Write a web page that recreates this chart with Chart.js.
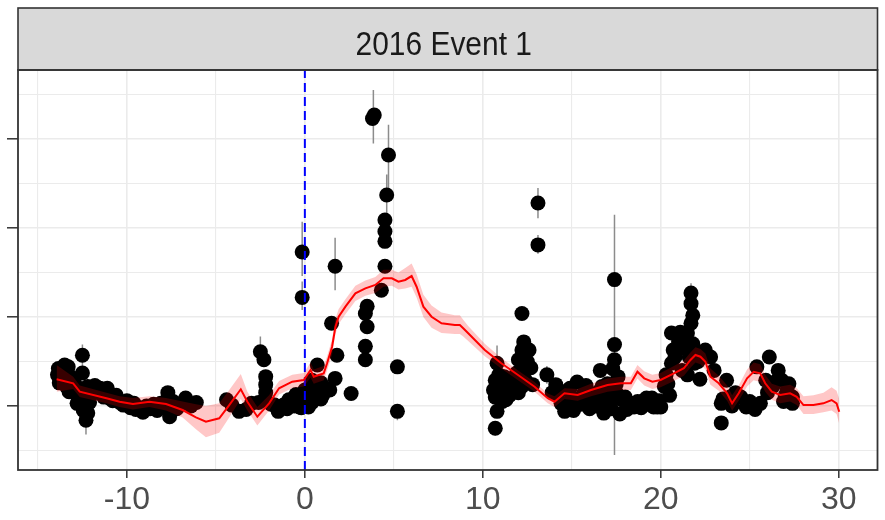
<!DOCTYPE html>
<html>
<head>
<meta charset="utf-8">
<script src="https://cdn.jsdelivr.net/npm/chart.js@4.4.1/dist/chart.umd.min.js"></script>
<style>
  html, body { margin: 0; padding: 0; background: #fff; }
  canvas { display: block; }
</style>
</head>
<body>
<canvas id="chart" width="885" height="520"></canvas>
<script>
// ── Data ──
const stripLabel = '2016 Event 1';
const eventDay = 0;
const xMin = -16.12, xMax = 32.18;
const yMin = -7.19, yMax = 37.75;
const xTicks = [-15, -10, -5, 0, 5, 10, 15, 20, 25, 30];
const yTicks = [-5, 0, 5, 10, 15, 20, 25, 30, 35];

// observations
const obsDay = [
  -13.9, -13.8, -13.7, -13.6, -13.5, -13.4, -13.3, -13.2, -13.1, -13.0, -12.9, -12.8, -12.7, -12.5, -12.5, -12.4, -12.3, -12.2, -12.1, -12.0,
  -11.8, -11.6, -11.5, -11.3, -11.1, -11.0, -10.8, -10.6, -10.4, -10.2, -10.0, -9.8, -9.6, -9.5, -9.3, -9.1, -8.9, -8.7, -8.5, -8.3,
  -8.1, -7.9, -7.7, -7.6, -7.4, -7.2, -7.0, -6.7, -6.4, -6.1,
  -13.85, -13.65, -13.45, -13.25, -12.95, -12.6, -12.45, -12.2,
  -4.4, -4.1, -3.7, -3.3, -3.0, -2.6, -2.5, -2.3, -2.2, -2.2, -2.2, -1.9, -1.7, -1.5, -1.2, -0.9, -0.6, -0.4, -0.2, -0.2, -0.15, -0.15,
  -1.0, -0.8, -0.5, -0.3, 0.0, 0.2, 0.4, 0.7, 0.9,
  0.1, 0.2, 0.3, 0.4, 0.5, 0.6, 0.7, 0.9, 1.0, 1.2, 1.4, 1.5, 1.7, 1.7, 1.8, 2.6, 3.4, 3.4, 3.5, 3.4, 3.5, 3.8, 3.9, 4.3,
  4.5, 4.5, 4.5, 4.5, 4.6, 4.7, 5.2, 5.2,
  10.7, 10.8, 10.8, 10.7, 10.9, 10.7, 11.0, 11.2, 11.3, 11.6, 11.9, 12.0, 12.2, 12.3, 12.6, 12.4, 12.2, 12.2, 12.5, 12.7,
  10.6, 10.9, 11.1, 11.4, 11.5, 11.8, 12.0, 12.4, 12.1, 12.8,
  13.1, 13.1, 13.6, 14.1, 14.2, 14.6, 14.8, 14.8, 15.3, 15.3, 15.7, 15.9, 16.2, 16.3, 16.5, 16.6, 16.8, 17.0, 17.0, 17.4,
  17.4, 17.4, 17.6, 17.8, 18.1, 18.5, 19.1, 19.2, 19.6, 19.8,
  13.9, 14.4, 14.9, 15.1, 15.5, 15.8, 16.0, 16.4, 16.9, 17.2, 17.5, 17.7, 18.0, 18.3, 18.7, 18.9, 19.3, 19.9, 16.7, 15.0,
  17.3, 17.5, 17.3,
  19.5, 20.0, 20.2, 20.4, 20.6, 20.6, 20.7, 21.1, 21.3, 21.5, 21.5, 21.7, 21.8, 21.7, 21.7, 21.9, 22.0, 22.2, 22.5, 22.8,
  20.3, 20.5, 20.8, 21.0, 21.2, 21.4, 21.6, 21.8, 22.1, 22.3,
  23.0, 23.4, 23.4, 23.7, 23.9, 24.5, 24.8, 25.3, 25.4, 25.6, 25.9, 26.1, 26.3, 26.6, 26.8, 27.1, 27.4, 27.4,
  23.5, 24.0, 24.2, 25.0, 26.0, 26.5, 27.0, 27.2, 26.9
];
const obsVal = [
  3.5, 2.6, 4.0, 3.0, 4.6, 2.2, 4.4, 2.5, 3.2, 1.8, 1.5, 0.3, 2.0, 5.7, 3.7, 0.8, -1.6, 2.2, 0.4, 1.8,
  2.3, 1.5, 2.0, 1.0, 2.0, 0.9, 0.6, 1.2, 0.4, 0.1, 0.6, -0.2, 0.3, -0.4, -0.2, -0.7, 0.0, -0.3, 0.2, -0.5,
  0.3, -0.2, 1.5, -1.2, 0.5, -0.3, 0.2, 0.9, 0.0, 0.4,
  4.2, 3.7, 3.4, 1.6, 2.6, 1.0, -0.5, -0.8,
  0.7, 0.1, -0.6, -0.4, 0.3, 0.4, 6.1, 5.2, 3.3, 2.4, 1.5, 0.2, 0.1, -0.6, 0.1, 0.7, 0.0, 0.5, 1.1, -0.2, 12.2, 17.3,
  -0.3, 0.3, 1.3, -0.1, 1.8, -0.1, 0.4, 1.6, 2.6,
  0.5, 2.0, 1.5, 2.9, 1.0, 2.3, 4.6, 0.8, 1.2, 2.0, 1.8, 9.3, 3.1, 15.7, 5.7, 1.4, 5.2, 6.7, 8.9, 10.4, 11.2, 32.3, 32.7, 13.0,
  15.7, 18.5, 19.6, 20.9, 23.7, 28.2, 4.4, -0.6,
  -2.5, -0.6, 4.8, 2.9, 2.2, 1.0, 1.8, 3.3, 0.7, 2.5, 3.7, 5.2, 6.3, 7.2, 6.3, 2.9, 10.4, 2.2, 5.0, 4.3,
  1.8, 3.5, 0.5, 2.0, 1.2, 2.8, 1.5, 4.3, 3.5, 2.4,
  22.8, 18.1, 3.5, 2.4, 1.2, -0.6, 1.8, 0.1, 2.7, 0.7, 1.5, 0.7, 0.2, 1.0, 1.6, 4.0, -0.8, 2.5, 0.1, 6.9,
  5.2, 14.2, 3.3, 0.7, -0.4, -0.1, 0.7, 0.9, -0.1, -0.1,
  1.5, 0.3, 2.0, -0.5, 0.2, 2.3, -0.3, 0.0, 1.2, -0.3, 1.5, -0.9, 1.0, 0.3, 0.5, -0.2, 0.2, 0.6, 2.2, 1.0,
  4.2, 2.5, 1.0,
  0.9, -0.1, 2.2, 2.5, 4.8, 8.2, 6.3, 8.3, 6.5, 3.5, 8.2, 9.3, 10.2, 11.5, 12.7, 4.8, 6.0, 3.0, 6.3, 5.5,
  3.5, 1.2, 5.5, 7.2, 4.0, 7.5, 5.5, 7.0, 5.0, 6.0,
  4.0, 0.3, -1.9, 2.9, 1.0, 1.0, -0.1, -0.4, 4.4, 0.3, 2.9, 5.5, 2.2, 4.0, 2.9, 1.8, 1.0, 0.3,
  0.8, 0.0, 1.5, 0.5, 1.5, 2.8, 1.2, 2.5, 0.5
];

// error bars on the observations
const errDay = [-12.5, -12.3, -2.5, -0.15, -0.15, 1.7, 3.85, 4.6, 4.7, 5.2, 10.7, 10.8, 13.1, 13.1, 13.6, 17.4, 21.7];
const errLo  = [4.5, -3.2, 4.5, 10.8, 14.6, 13.0, 29.5, 19.0, 24.0, -1.6, -3.3, 4.0, 21.1, 17.1, 2.5, -5.5, 12.7];
const errHi  = [6.9, -0.3, 7.8, 14.0, 20.7, 18.9, 35.5, 26.0, 31.6, 0.0, -1.8, 6.8, 24.5, 19.2, 4.5, 21.5, 13.8];

// smoothed trend with its band
const trendDay = [
  -13.95, -13.02, -12.65, -11.15, -10.41, -9.66, -8.73, -7.8, -6.87, -6.12, -5.56, -4.81, -4.25, -3.6, -3.23, -2.67, -2.01, -1.45, -0.71, -0.06,
  0.32, 0.5, 0.78, 1.06, 1.25, 1.53, 1.72, 1.9, 2.28, 2.84, 3.4, 3.96, 4.42, 4.89, 5.26, 5.64, 6.0, 6.28, 6.66, 7.12,
  7.68, 8.43, 8.71, 8.9, 9.18, 10.11, 11.04, 11.98, 12.91, 13.65, 14.03, 14.59, 15.33, 16.08, 17.01, 17.76, 18.32, 18.69, 19.07, 19.53,
  19.99, 20.74, 21.3, 21.67, 21.95, 22.23, 22.51, 22.79, 23.26, 23.73, 24.01, 24.38, 24.85, 25.22, 25.59, 25.87, 26.24, 26.71, 27.27, 27.64,
  28.02, 28.58, 29.14, 29.6, 29.88, 30.03
];
const trendVal = [
  3.0, 2.55, 1.61, 0.87, 0.48, 0.22, 0.48, 0.22, -0.45, -1.27, -1.76, -1.38, 0.11, 1.88, 0.48, -1.2, 0.3, 1.99, 2.73, 2.92,
  4.04, 3.29, 3.48, 3.67, 4.8, 6.66, 8.91, 10.03, 11.16, 12.66, 13.22, 13.6, 14.35, 14.35, 13.97, 14.16, 14.6, 13.4, 11.16, 10.03,
  9.29, 9.1, 9.1, 8.73, 8.17, 6.29, 4.8, 3.48, 2.17, 0.87, 0.48, 1.43, 1.24, 1.8, 2.36, 2.55, 2.55, 3.85, 3.11, 2.73,
  2.92, 3.67, 4.24, 5.17, 5.73, 5.54, 4.98, 3.29, 2.55, 1.43, 0.3, 1.43, 3.11, 3.85, 3.67, 2.55, 1.61, 1.24, 1.43, 1.04,
  0.11, 0.11, 0.3, 0.67, 0.3, -0.64
];
const bandLo = [
  1.6, 1.9, 1.0, 0.3, -0.1, -0.4, -0.1, -0.5, -1.3, -2.6, -3.5, -3.0, -1.3, 0.8, -0.5, -2.2, -0.5, 1.3, 2.0, 2.2,
  3.2, 2.5, 2.7, 2.9, 4.0, 5.8, 8.1, 9.2, 10.3, 11.8, 12.4, 12.7, 13.4, 13.5, 13.1, 13.2, 13.4, 12.2, 10.0, 8.8,
  8.2, 8.1, 8.1, 7.8, 7.3, 5.6, 4.2, 2.9, 1.6, 0.3, -0.1, 0.8, 0.6, 1.1, 1.6, 1.8, 1.8, 3.1, 2.3, 1.9,
  2.1, 2.8, 3.4, 4.3, 4.9, 4.7, 4.1, 2.4, 1.7, 0.6, -0.5, 0.6, 2.2, 2.9, 2.7, 1.6, 0.7, 0.3, 0.5, 0.1,
  -0.9, -0.9, -0.7, -0.5, -0.9, -2.0
];
const bandHi = [
  4.6, 3.3, 2.3, 1.5, 1.1, 0.9, 1.1, 0.9, 0.5, 0.2, 0.0, 0.3, 1.8, 3.6, 1.6, -0.1, 1.2, 2.8, 3.5, 3.7,
  4.9, 4.1, 4.3, 4.5, 5.6, 7.5, 9.8, 10.9, 12.0, 13.5, 14.1, 14.5, 15.3, 15.3, 15.0, 15.5, 16.0, 14.8, 12.5, 11.3,
  10.5, 10.2, 10.2, 9.7, 9.0, 7.0, 5.4, 4.0, 2.7, 1.4, 1.1, 2.0, 1.9, 2.5, 3.1, 3.3, 3.3, 4.6, 3.9, 3.5,
  3.7, 4.5, 5.1, 6.0, 6.6, 6.4, 5.9, 4.2, 3.4, 2.3, 1.2, 2.3, 4.1, 4.9, 4.7, 3.5, 2.5, 2.2, 2.4, 2.0,
  1.1, 1.2, 1.5, 2.1, 1.7, 0.8
];

// ── Helpers ──
const pairs = (xs, ys) => xs.map((x, i) => ({ x, y: ys[i] }));
const isMajor = v => v % 10 === 0;

// one broken line: lo→hi for each bar, then a gap
const errSegs = [];
errDay.forEach((d, i) => {
  errSegs.push({ x: d, y: errLo[i] }, { x: d, y: errHi[i] }, { x: d, y: null });
});

const FONT = '"Liberation Sans", Arial, sans-serif';
const GRID = '#ebebeb';
const INK = '#333333';

// ── Strip + panel frame ──
const panelFrame = {
  id: 'panelFrame',
  afterDraw(chart) {
    const { ctx, chartArea: a } = chart;
    const stripTop = 8;
    ctx.save();
    ctx.fillStyle = '#d9d9d9';
    ctx.fillRect(a.left, stripTop, a.right - a.left, a.top - stripTop);
    ctx.strokeStyle = INK;
    ctx.lineWidth = 1.6;
    ctx.strokeRect(a.left, stripTop, a.right - a.left, a.top - stripTop);

    ctx.save();
    ctx.translate((a.left + a.right) / 2 - 4, 55);
    ctx.scale(0.88, 1);
    ctx.font = '34px ' + FONT;
    ctx.fillStyle = '#1a1a1a';
    ctx.textAlign = 'center';
    ctx.textBaseline = 'alphabetic';
    ctx.fillText(stripLabel, 0, 0);
    ctx.restore();

    ctx.lineWidth = 1.8;
    ctx.strokeRect(a.left, a.top, a.right - a.left, a.bottom - a.top);
    ctx.restore();
  }
};

const gridOpts = len => ({
  color: GRID,
  lineWidth: c => (c.tick && isMajor(c.tick.value)) ? 1.6 : 1.1,
  tickColor: c => (c.tick && isMajor(c.tick.value)) ? INK : 'rgba(0,0,0,0)',
  tickLength: len,
  tickWidth: 1.5,
  drawTicks: true
});

new Chart(document.getElementById('chart').getContext('2d'), {
  type: 'scatter',
  data: {
    datasets: [
      { type: 'line', data: errSegs, borderColor: '#8c8c8c', borderWidth: 1.5, pointRadius: 0, spanGaps: false, order: 6 },
      { type: 'scatter', data: pairs(obsDay, obsVal), backgroundColor: '#000', borderWidth: 0, pointRadius: 7.5, order: 5 },
      { type: 'line', data: pairs(trendDay, bandLo), borderWidth: 0, pointRadius: 0, fill: false, order: 3 },
      { type: 'line', data: pairs(trendDay, bandHi), borderWidth: 0, pointRadius: 0, fill: '-1', backgroundColor: 'rgba(255,0,0,0.22)', order: 3 },
      { type: 'line', data: pairs(trendDay, trendVal), borderColor: '#ff0000', borderWidth: 2, pointRadius: 0, order: 2 },
      { type: 'line', data: [{ x: eventDay, y: yMin }, { x: eventDay, y: yMax }], borderColor: '#0000ff', borderWidth: 2, borderDash: [9, 5], pointRadius: 0, order: 4 }
    ]
  },
  options: {
    responsive: false,
    devicePixelRatio: 1,
    animation: false,
    layout: { padding: { top: 70, right: 4, left: 0, bottom: 0 } },
    plugins: { legend: { display: false }, tooltip: { enabled: false } },
    scales: {
      x: {
        type: 'linear', min: xMin, max: xMax,
        afterBuildTicks: s => { s.ticks = xTicks.map(v => ({ value: v })); },
        afterFit: s => { s.height = 50; },
        ticks: { callback: v => isMajor(v) ? String(v) : '', color: '#4d4d4d', font: { family: FONT, size: 32 }, padding: 3, maxRotation: 0, autoSkip: false },
        grid: gridOpts(8),
        border: { display: false }
      },
      y: {
        type: 'linear', min: yMin, max: yMax,
        afterBuildTicks: s => { s.ticks = yTicks.map(v => ({ value: v })); },
        afterFit: s => { s.width = 18; },
        ticks: { display: false },
        grid: gridOpts(11),
        border: { display: false }
      }
    }
  },
  plugins: [panelFrame]
});
</script>
</body>
</html>
